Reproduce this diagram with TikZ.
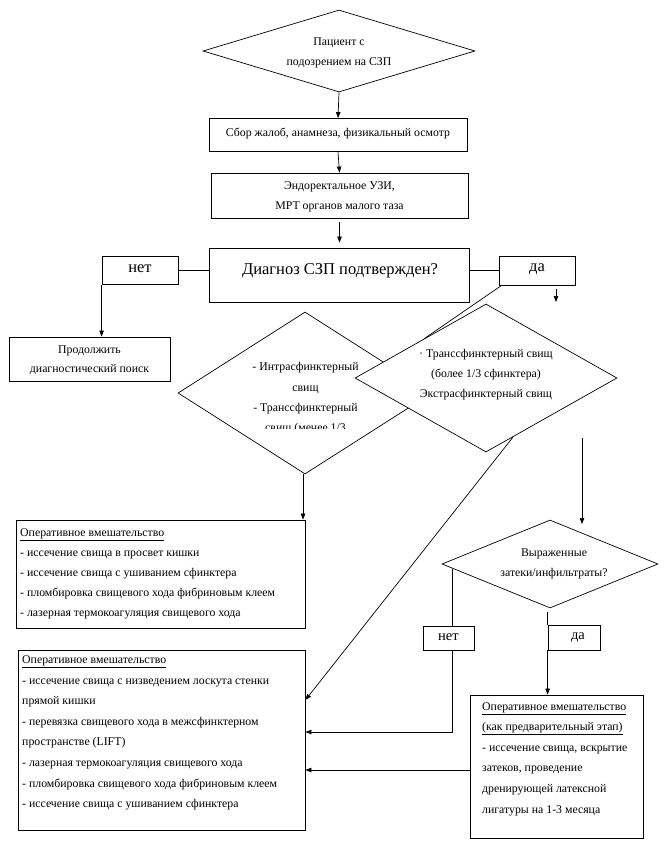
\documentclass[tikz,border=0pt]{standalone}
\usepackage{fontspec}
\setmainfont{Liberation Serif}
\usetikzlibrary{shapes.geometric,arrows.meta,calc}
\begin{document}
\begin{tikzpicture}[x=1pt,y=-1pt,
  box/.style={draw, rectangle, line width=0.8pt, inner sep=0pt, fill=white},
  dia/.style={draw, diamond, line width=0.7pt, inner sep=0pt, fill=white},
  ln/.style={line width=0.7pt},
  arr/.style={line width=0.7pt, -{Triangle[length=6pt,width=4.5pt]}},
  txt/.style={font=\fontsize{11.8}{20}\selectfont, inner sep=0pt, align=center},
  ltxt/.style={font=\fontsize{11.8}{20.6}\selectfont, inner sep=0pt, align=left, anchor=north west},
  big/.style={font=\fontsize{16.5}{18}\selectfont, inner sep=0pt, text height=1ex, text depth=0pt},
  mid/.style={font=\fontsize{16.5}{18}\selectfont, inner sep=0pt, text height=1ex, text depth=0pt},
  sml/.style={font=\fontsize{14.5}{16}\selectfont, inner sep=0pt, text height=1ex, text depth=0pt}]
\useasboundingbox (0,0) rectangle (666,843);

% top diamond
\node[dia, minimum width=272pt, minimum height=82pt] (dTop) at (339,51) {};
\node[txt] (tTop) at (339,53) {Пациент с\\подозрением на СЗП};

% boxes
\node[box, minimum width=258pt, minimum height=33pt] (b1) at (338,135) {};
\node[txt] (t1) at (338,134) {Сбор жалоб, анамнеза, физикальный осмотр};
\node[box, minimum width=257pt, minimum height=45pt] (b2) at (339.5,195.5) {};
\node[txt] (t2) at (339.5,197) {Эндоректальное УЗИ,\\МРТ органов малого таза};
\node[box, minimum width=260pt, minimum height=54pt] (b3) at (339,275) {};
\node[big] (t3) at (340,272) {Диагноз СЗП подтвержден?};

\node[box, minimum width=76pt, minimum height=28pt] (net1) at (140,270.5) {};
\node[mid] (tn1) at (140,270) {нет};
\node[box, minimum width=76pt, minimum height=29pt] (da1) at (537,270.5) {};
\node[mid] (td1) at (537,269) {да};

\node[box, minimum width=161pt, minimum height=44pt] (p1) at (89.5,359) {};
\node[txt, font=\fontsize{11.8}{19}\selectfont] (tp1) at (89.5,360) {Продолжить\\диагностический поиск};

% left diamond
\node[dia, minimum width=254pt, minimum height=162pt] (d2) at (305,393) {};
\begin{scope}
  \clip (170,330) rectangle (440,428);
  \node[txt, font=\fontsize{11.8}{20.3}\selectfont, anchor=north] (td2) at (305.5,362.5) {- Интрасфинктерный\\свищ\\- Транссфинктерный\\свищ (менее 1/3};
\end{scope}

% right diamond
\node[dia, minimum width=262pt, minimum height=148pt] (d3) at (486,378) {};
\node[txt, anchor=north] (td3) at (486,349) {· Транссфинктерный свищ\\(более 1/3 сфинктера)\\Экстрасфинктерный свищ};

% third diamond
\node[dia, minimum width=216pt, minimum height=88pt] (d4) at (550,564) {};
\node[txt] (td4) at (554,564) {Выраженные\\затеки/инфильтраты?};

% operative boxes
\node[box, minimum width=289pt, minimum height=108pt] (b4) at (161,574) {};
\node[ltxt, font=\fontsize{11.8}{20}\selectfont] (t4) at (20,528.5) {\underline{Оперативное вмешательство}\\- иссечение свища в просвет кишки\\- иссечение свища с ушиванием сфинктера\\- пломбировка свищевого хода фибриновым клеем\\- лазерная термокоагуляция свищевого хода};

\node[box, minimum width=287pt, minimum height=180pt] (b5) at (161.5,740) {};
\node[ltxt] (t5) at (22,655.5) {\underline{Оперативное вмешательство}\\- иссечение свища с низведением лоскута стенки\\прямой кишки\\- перевязка свищевого хода в межсфинктерном\\пространстве (LIFT)\\- лазерная термокоагуляция свищевого хода\\- пломбировка свищевого хода фибриновым клеем\\- иссечение свища с ушиванием сфинктера};

\node[box, minimum width=173pt, minimum height=143pt] (b6) at (556.5,766.5) {};
\node[ltxt] (t6) at (482,702) {\underline{Оперативное вмешательство}\\\underline{(как предварительный этап)}\\- иссечение свища, вскрытие\\затеков, проведение\\дренирующей латексной\\лигатуры на 1-3 месяца};

\node[box, minimum width=51pt, minimum height=24pt] (net2) at (448.5,638) {};
\node[sml] (tn2) at (448.5,638) {нет};
\node[box, minimum width=52pt, minimum height=25pt] (da2) at (574,637.5) {};
\node[sml] (td2b) at (578,637.5) {да};

% free coordinates
\coordinate (c1) at (556,289);
\coordinate (c2) at (556,302);
\coordinate (c3) at (582,438);
\coordinate (c4) at (582,524);
\coordinate (e1) at ($(d3.north)!0.47!(d3.west)$);
\coordinate (e2) at ($(d3.south)!0.206!(d3.east)$);
\coordinate (e3) at ($(d4.west)!0.102!(d4.south)$);

% connectors
\draw[arr] (dTop.south) -- (b1.north);
\draw[arr] (b1.south) -- (b2.north);
\draw[arr] ([yshift=-4pt]b2.south) -- ([yshift=5pt]b3.north -| b2.south);
\draw[ln] (net1.east) -- (net1.east -| b3.west);
\draw[arr] (net1.south west) -- (net1.south west |- p1.north);
\draw[ln] (da1.west) -- (da1.west -| b3.east);
\draw[ln] ([xshift=3pt]da1.south west) -- (e1);
\draw[arr] (c1) -- (c2);
\draw[arr] ([xshift=-2pt]d2.south) -- ([xshift=-2pt]d2.south |- b4.north);
\draw[arr] (e2) -- ([yshift=40pt]b5.east);
\draw[arr] (c3) -- (c4);
\draw[ln] (e3) -- (e3 |- net2.north);
\draw[arr] (e3 |- net2.south) |- ([yshift=8pt]b5.east);
\draw[ln] ([yshift=-4pt]d4.south -| da2.north west) -- (da2.north west);
\draw[arr] (da2.south west) -- (da2.south west |- b6.north);
\draw[arr] ([yshift=-3.5pt]b6.west) -- ([yshift=-3.5pt]b6.west -| b5.east);
\end{tikzpicture}
\end{document}
